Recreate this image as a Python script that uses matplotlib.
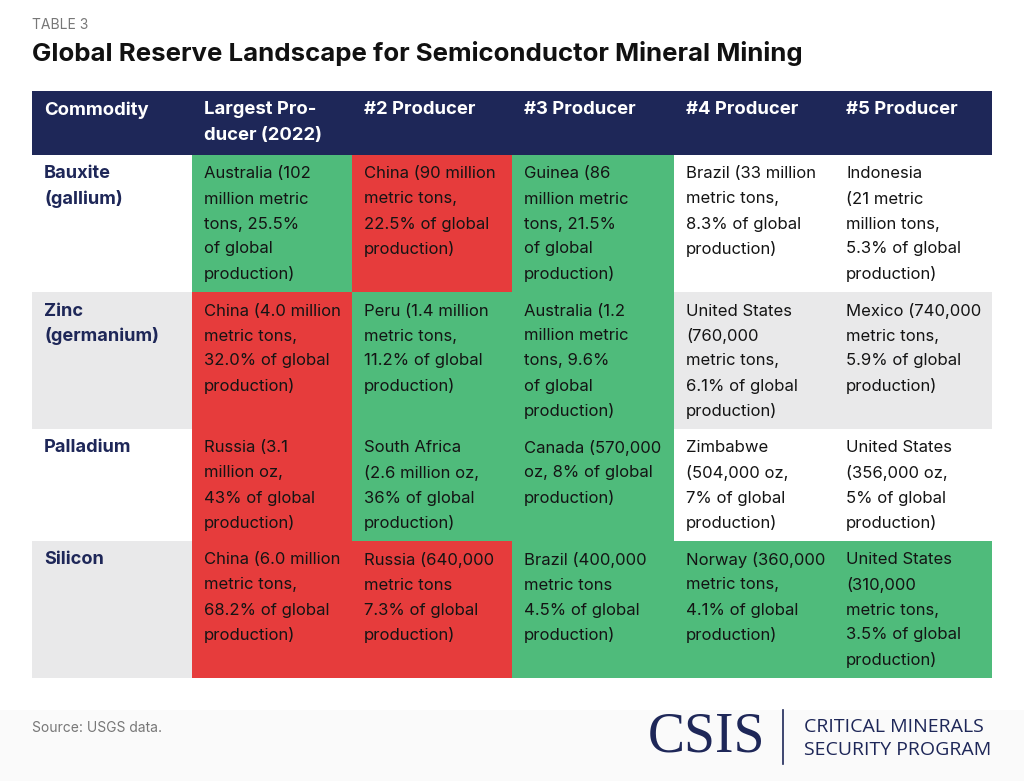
import matplotlib.pyplot as plt
from matplotlib.patches import Rectangle

# table content
headers = ["Commodity", "Largest Pro-\nducer (2022)", "#2 Producer",
           "#3 Producer", "#4 Producer", "#5 Producer"]
commodities = ["Bauxite\n(gallium)", "Zinc\n(germanium)", "Palladium", "Silicon"]

bauxite = ["Australia (102\nmillion metric\ntons, 25.5%\nof global\nproduction)",
           "China (90 million\nmetric tons,\n22.5% of global\nproduction)",
           "Guinea (86\nmillion metric\ntons, 21.5%\nof global\nproduction)",
           "Brazil (33 million\nmetric tons,\n8.3% of global\nproduction)",
           "Indonesia\n(21 metric\nmillion tons,\n5.3% of global\nproduction)"]
zinc = ["China (4.0 million\nmetric tons,\n32.0% of global\nproduction)",
        "Peru (1.4 million\nmetric tons,\n11.2% of global\nproduction)",
        "Australia (1.2\nmillion metric\ntons, 9.6%\nof global\nproduction)",
        "United States\n(760,000\nmetric tons,\n6.1% of global\nproduction)",
        "Mexico (740,000\nmetric tons,\n5.9% of global\nproduction)"]
palladium = ["Russia (3.1\nmillion oz,\n43% of global\nproduction)",
             "South Africa\n(2.6 million oz,\n36% of global\nproduction)",
             "Canada (570,000\noz, 8% of global\nproduction)",
             "Zimbabwe\n(504,000 oz,\n7% of global\nproduction)",
             "United States\n(356,000 oz,\n5% of global\nproduction)"]
silicon = ["China (6.0 million\nmetric tons,\n68.2% of global\nproduction)",
           "Russia (640,000\nmetric tons\n7.3% of global\nproduction)",
           "Brazil (400,000\nmetric tons\n4.5% of global\nproduction)",
           "Norway (360,000\nmetric tons,\n4.1% of global\nproduction)",
           "United States\n(310,000\nmetric tons,\n3.5% of global\nproduction)"]
rows = [bauxite, zinc, palladium, silicon]

# r = red, g = green, n = neutral (row stripe)
cell_status = [["g", "r", "g", "n", "n"],
               ["r", "g", "g", "n", "n"],
               ["r", "g", "g", "n", "n"],
               ["r", "r", "g", "g", "g"]]

NAVY = "#1e2758"
GREEN = "#4fbb7b"
RED = "#e63c3c"
GRAY = "#e9e9ea"
TXT = "#141414"
BODY = "Inter"

col_x = [32, 192, 352, 512, 674, 834, 992]
pad = 12
line_h = 25

fig = plt.figure(figsize=(10.24, 7.81), dpi=100)
ax = fig.add_axes([0, 0, 1, 1])
ax.set_xlim(0, 1024)
ax.set_ylim(781, 0)
ax.axis("off")

# footer band
ax.add_patch(Rectangle((0, 710), 1024, 71, color="#fafafa", lw=0))

ax.text(32, 25, "TABLE 3", fontsize=10, color="#777777", family=BODY, va="center")
ax.text(32, 53, "Global Reserve Landscape for Semiconductor Mineral Mining",
        fontsize=18.6, fontweight="bold", color="#111111", family=BODY, va="center")

# header
top = 91
ax.add_patch(Rectangle((col_x[0], top), col_x[-1] - col_x[0], 64, color=NAVY, lw=0))
for j, h in enumerate(headers):
    for k, ln in enumerate(h.split("\n")):
        ax.text(col_x[j] + pad, top + 19 + line_h * k, ln, color="white",
                fontsize=13.3, fontweight="bold", family=BODY, va="center")
top += 64

for i, (name, cells) in enumerate(zip(commodities, rows)):
    n_lines = max(c.count("\n") + 1 for c in cells)
    h = 12 + line_h * n_lines
    stripe = GRAY if i % 2 == 1 else "white"
    ax.add_patch(Rectangle((col_x[0], top), col_x[1] - col_x[0], h, color=stripe, lw=0))
    for k, ln in enumerate(name.split("\n")):
        ax.text(col_x[0] + pad, top + 19 + line_h * k, ln, color=NAVY,
                fontsize=13.1, fontweight="bold", family=BODY, va="center")
    for j, txt in enumerate(cells):
        st = cell_status[i][j]
        fc = {"r": RED, "g": GREEN, "n": stripe}[st]
        ax.add_patch(Rectangle((col_x[j + 1], top), col_x[j + 2] - col_x[j + 1], h,
                               color=fc, lw=0))
        for k, ln in enumerate(txt.split("\n")):
            ax.text(col_x[j + 1] + pad, top + 19 + line_h * k, ln, color=TXT,
                    fontsize=12, family=BODY, va="center")
    top += h

ax.text(32, 728, "Source: USGS data.", fontsize=10, color="#777777", family=BODY, va="center")

# logo
ax.text(648, 738, "CSIS", fontsize=40, color=NAVY, family="Liberation Serif", va="center")
ax.plot([783, 783], [710, 764], color=NAVY, lw=1.2)
ax.text(804, 727, "CRITICAL MINERALS", fontsize=14, color=NAVY, family="Open Sans", va="center")
ax.text(804, 750, "SECURITY PROGRAM", fontsize=14, color=NAVY, family="Open Sans", va="center")

fig.savefig("out.png", dpi=100)
